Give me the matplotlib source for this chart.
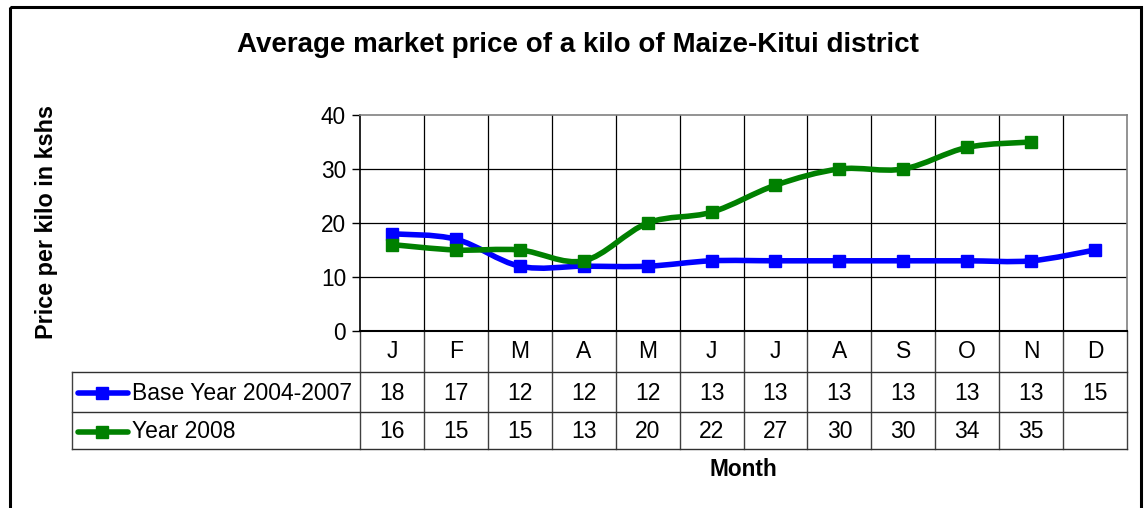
import matplotlib
matplotlib.use("Agg")
import matplotlib.pyplot as plt
import matplotlib.transforms as mtransforms
from matplotlib.path import Path
from matplotlib.patches import PathPatch, Rectangle
import numpy as np

plt.rcParams['font.family'] = ['Liberation Sans', 'DejaVu Sans']

title = "Average market price of a kilo of Maize-Kitui district"
ylabel = "Price per kilo in kshs"
xlabel = "Month"
months = ["J", "F", "M", "A", "M", "J", "J", "A", "S", "O", "N", "D"]
series_names = ["Base Year 2004-2007", "Year 2008"]
base_values = [18, 17, 12, 12, 12, 13, 13, 13, 13, 13, 13, 15]
y2008_values = [16, 15, 15, 13, 20, 22, 27, 30, 30, 34, 35]
colors = ["#0000FF", "#008000"]
yticks = [0, 10, 20, 30, 40]

W, H = 1146, 508
fig = plt.figure(figsize=(W / 100, H / 100), dpi=100)

# overlay in pixel coordinates
ov = fig.add_axes([0, 0, 1, 1], zorder=0)
ov.set_xlim(0, W)
ov.set_ylim(H, 0)
ov.axis("off")

px = lambda x0, y0, x1, y1: [x0 / W, 1 - y1 / H, (x1 - x0) / W, (y1 - y0) / H]
ax = fig.add_axes(px(360, 115, 1127, 331), zorder=2)
ax.set_facecolor("none")
n = len(months)
ax.set_xlim(-0.5, n - 0.5)
ax.set_ylim(0, 40)
ax.set_yticks(yticks)
ax.set_xticks([])
ax.tick_params(axis="y", labelsize=16.3, length=6, pad=4, width=1)
for s in ["top", "right"]:
    ax.spines[s].set_color("#808080")
    ax.spines[s].set_linewidth(1.2)
ax.spines["left"].set_linewidth(1.2)
ax.spines["bottom"].set_linewidth(1.5)
for v in yticks[1:-1]:
    ax.axhline(v, color="black", lw=0.9, zorder=1)
for k in range(1, n):
    ax.axvline(k - 0.5, color="black", lw=0.9, zorder=1)


def smooth_path(xs, ys):
    pts = np.column_stack([xs, ys]).astype(float)
    verts = [pts[0]]
    codes = [Path.MOVETO]
    m = len(pts)
    for i in range(m - 1):
        p0 = pts[i - 1] if i > 0 else pts[i]
        p1 = pts[i]
        p2 = pts[i + 1]
        p3 = pts[i + 2] if i + 2 < m else pts[i + 1]
        c1 = p1 + (p2 - p0) / 6.0
        c2 = p2 - (p3 - p1) / 6.0
        verts += [c1, c2, p2]
        codes += [Path.CURVE4] * 3
    return Path(verts, codes)


for vals, c in zip([base_values, y2008_values], colors):
    xs = np.arange(len(vals))
    ax.add_patch(PathPatch(smooth_path(xs, vals), facecolor="none", edgecolor=c,
                           lw=4.0, zorder=3, capstyle="round", joinstyle="round"))
    ax.plot(xs, vals, linestyle="none", marker="s", markersize=8.3, color=c, zorder=4)

# title & labels
ov.text(578, 45, title, ha="center", va="center", fontsize=20, fontweight="bold")
ov.text(47, 222, ylabel, ha="center", va="center", rotation=90, fontsize=16.8, fontweight="bold")
ov.text(743, 470, xlabel, ha="center", va="center", fontsize=16.3, fontweight="bold")

# outer border
ov.add_patch(Rectangle((10, 7), 1131, 520, fill=False, edgecolor="black", lw=2.2, clip_on=False))

# data table
bt = mtransforms.blended_transform_factory(ax.transData, ov.transData)
row_y = [331, 372, 412, 449]
tab_left = 72
ov.plot([360, 360], [331, 449], color="#404040", lw=1)
for k in range(1, n + 1):
    ov.plot([k - 0.5, k - 0.5], [331, 449], color="#404040", lw=1, transform=bt)
for yy in row_y[1:]:
    ov.plot([tab_left, 1127], [yy, yy], color="#303030", lw=1)
ov.plot([tab_left, tab_left], [372, 449], color="#404040", lw=1)

fs = 16.5
for i, mth in enumerate(months):
    ov.text(i, 352, mth, ha="center", va="center", fontsize=fs, transform=bt)
for i, v in enumerate(base_values):
    ov.text(i, 393, str(v), ha="center", va="center", fontsize=fs, transform=bt)
for i, v in enumerate(y2008_values):
    ov.text(i, 432, str(v), ha="center", va="center", fontsize=fs, transform=bt)

for name, c, yy in zip(series_names, colors, [393, 432]):
    ov.plot([78, 128], [yy, yy], color=c, lw=4.0, solid_capstyle="round")
    ov.plot([102], [yy], marker="s", markersize=8.3, color=c)
    ov.text(132, yy, name, ha="left", va="center", fontsize=fs)

fig.savefig("out.png", dpi=100)
